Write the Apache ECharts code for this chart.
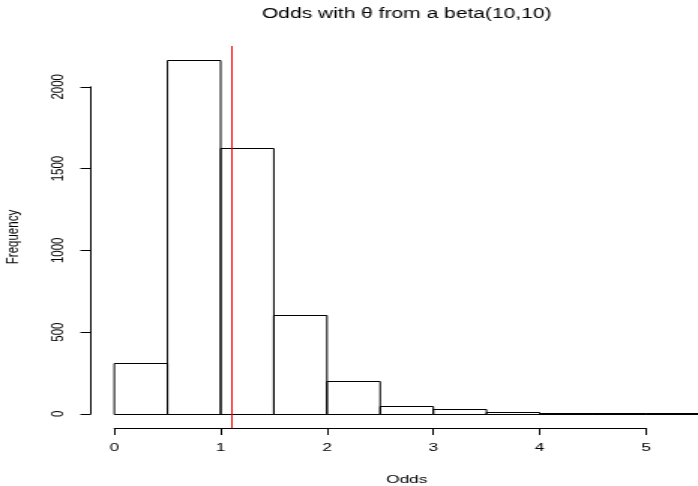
<!DOCTYPE html>
<html>
<head>
<meta charset="utf-8">
<script src="https://cdn.jsdelivr.net/npm/echarts@6/dist/echarts.min.js"></script>
<style>
  html, body { margin: 0; padding: 0; background: #fff; overflow: hidden; }
  #c { width: 465px; height: 486px; transform-origin: 0 0; transform: scaleX(1.501075); }
</style>
</head>
<body>
<div id="c"></div>
<script>
// ---- data ----
const titleText = 'Odds with \u03b8 from a beta(10,10)';
const xLabel = 'Odds';
const yLabel = 'Frequency';
const binEdges = [0, 0.5, 1, 1.5, 2, 2.5, 3, 3.5, 4, 4.5, 5, 5.5];
const counts = [310, 2163, 1627, 606, 198, 48, 30, 10, 5, 2, 1];
const meanOdds = 1.10;
const xTicks = [0, 1, 2, 3, 4, 5];
const yTicks = [0, 500, 1000, 1500, 2000];

// ---- layout (reference pixels, horizontally stretched picture) ----
const S = 698 / 465;
const sx = v => v / S;
const FONT = "'Liberation Sans', Arial, Helvetica, sans-serif";
const plotTop = 46, plotBottom = 428;
const plotH = plotBottom - plotTop;
const xMin = binEdges[0], xMax = binEdges[binEdges.length - 1];
const xExt = 0.04 * (xMax - xMin);
const yMax = Math.max(...counts);
const yExt = 0.04 * yMax;
const x0px = 114.3, unitPx = (646 - 114.3) / 5;
const plotLeft = x0px - xExt * unitPx;
const plotRight = x0px + (xMax + xExt) * unitPx;   // beyond the picture's right edge
const visRightVal = (698 - x0px) / unitPx;          // axis value at the picture's right edge
const pxPerY = plotH / (yMax + 2 * yExt);
const zeroY = plotBottom - yExt * pxPerY;
const yTop = yTicks[yTicks.length - 1];

const barData = counts.map((c, i) => [binEdges[i], binEdges[i + 1], c]);

const chart = echarts.init(document.getElementById('c'), null, { renderer: 'canvas' });
const black = '#000';
chart.setOption({
  animation: false,
  backgroundColor: '#fff',
  textStyle: { fontFamily: FONT },
  grid: [
    { left: sx(plotLeft), top: plotTop, right: 0, height: plotH, containLabel: false, outerBoundsMode: 'none' },
    { left: sx(x0px), top: plotTop, width: sx(5 * unitPx), height: plotH, containLabel: false, outerBoundsMode: 'none' },
    { left: sx(plotLeft), top: zeroY - yTop * pxPerY, right: 0, height: yTop * pxPerY, containLabel: false, outerBoundsMode: 'none' }
  ],
  xAxis: [
    { gridIndex: 0, type: 'value', min: xMin - xExt, max: visRightVal,
      axisLine: { show: false }, axisTick: { show: false }, axisLabel: { show: false }, splitLine: { show: false } },
    { gridIndex: 1, type: 'value', min: xTicks[0], max: xTicks[xTicks.length - 1], interval: 1, position: 'bottom',
      axisLine: { show: true, lineStyle: { color: black, width: 1 } },
      axisTick: { show: true, length: 7, lineStyle: { color: black, width: 1 } },
      axisLabel: { show: true, margin: 14, color: black, fontSize: 11.5, fontFamily: FONT, formatter: v => String(v) },
      splitLine: { show: false } },
    { gridIndex: 2, type: 'value', show: false, min: 0, max: 1 }
  ],
  yAxis: [
    { gridIndex: 0, type: 'value', min: -yExt, max: yMax + yExt,
      axisLine: { show: false }, axisTick: { show: false }, axisLabel: { show: false }, splitLine: { show: false },
      name: yLabel, nameLocation: 'middle', nameGap: 46,
      nameTextStyle: { color: black, fontSize: 11.5, fontFamily: FONT } },
    { gridIndex: 1, type: 'value', show: false, min: 0, max: 1 },
    { gridIndex: 2, type: 'value', min: yTicks[0], max: yTop, interval: 500, position: 'left',
      axisLine: { show: true, lineStyle: { color: black, width: 1 } },
      axisTick: { show: true, length: 7, lineStyle: { color: black, width: 1 } },
      axisLabel: { show: true, rotate: 90, margin: 16, color: black, fontSize: 11.5, fontFamily: FONT, formatter: v => String(v) },
      splitLine: { show: false } }
  ],
  series: [{
    type: 'custom',
    xAxisIndex: 0, yAxisIndex: 0,
    clip: false,
    data: barData,
    renderItem: function (params, api) {
      const a = api.coord([api.value(0), api.value(2)]);
      const b = api.coord([api.value(1), 0]);
      const yb = Math.round(b[1]) + 0.5;
      const yt = Math.min(Math.round(a[1]) + 0.5, yb - 1);
      return {
        type: 'rect',
        shape: { x: a[0], y: yt, width: b[0] - a[0], height: yb - yt },
        style: { fill: 'none', stroke: black, lineWidth: 1 }
      };
    },
    markLine: {
      silent: true, symbol: ['none', 'none'], label: { show: false },
      lineStyle: { color: '#ff0000', width: 1, type: 'solid' },
      data: [{ xAxis: meanOdds }]
    }
  }],
  graphic: [{
    type: 'text',
    x: sx((plotLeft + plotRight) / 2),
    y: 7,
    style: { text: titleText, font: '14px ' + FONT, fill: black, textAlign: 'center', textVerticalAlign: 'top' }
  }, {
    type: 'text',
    x: sx((plotLeft + plotRight) / 2),
    y: plotBottom + 46,
    style: { text: xLabel, font: '11.5px ' + FONT, fill: black, textAlign: 'center', textVerticalAlign: 'top' }
  }]
});
</script>
</body>
</html>
